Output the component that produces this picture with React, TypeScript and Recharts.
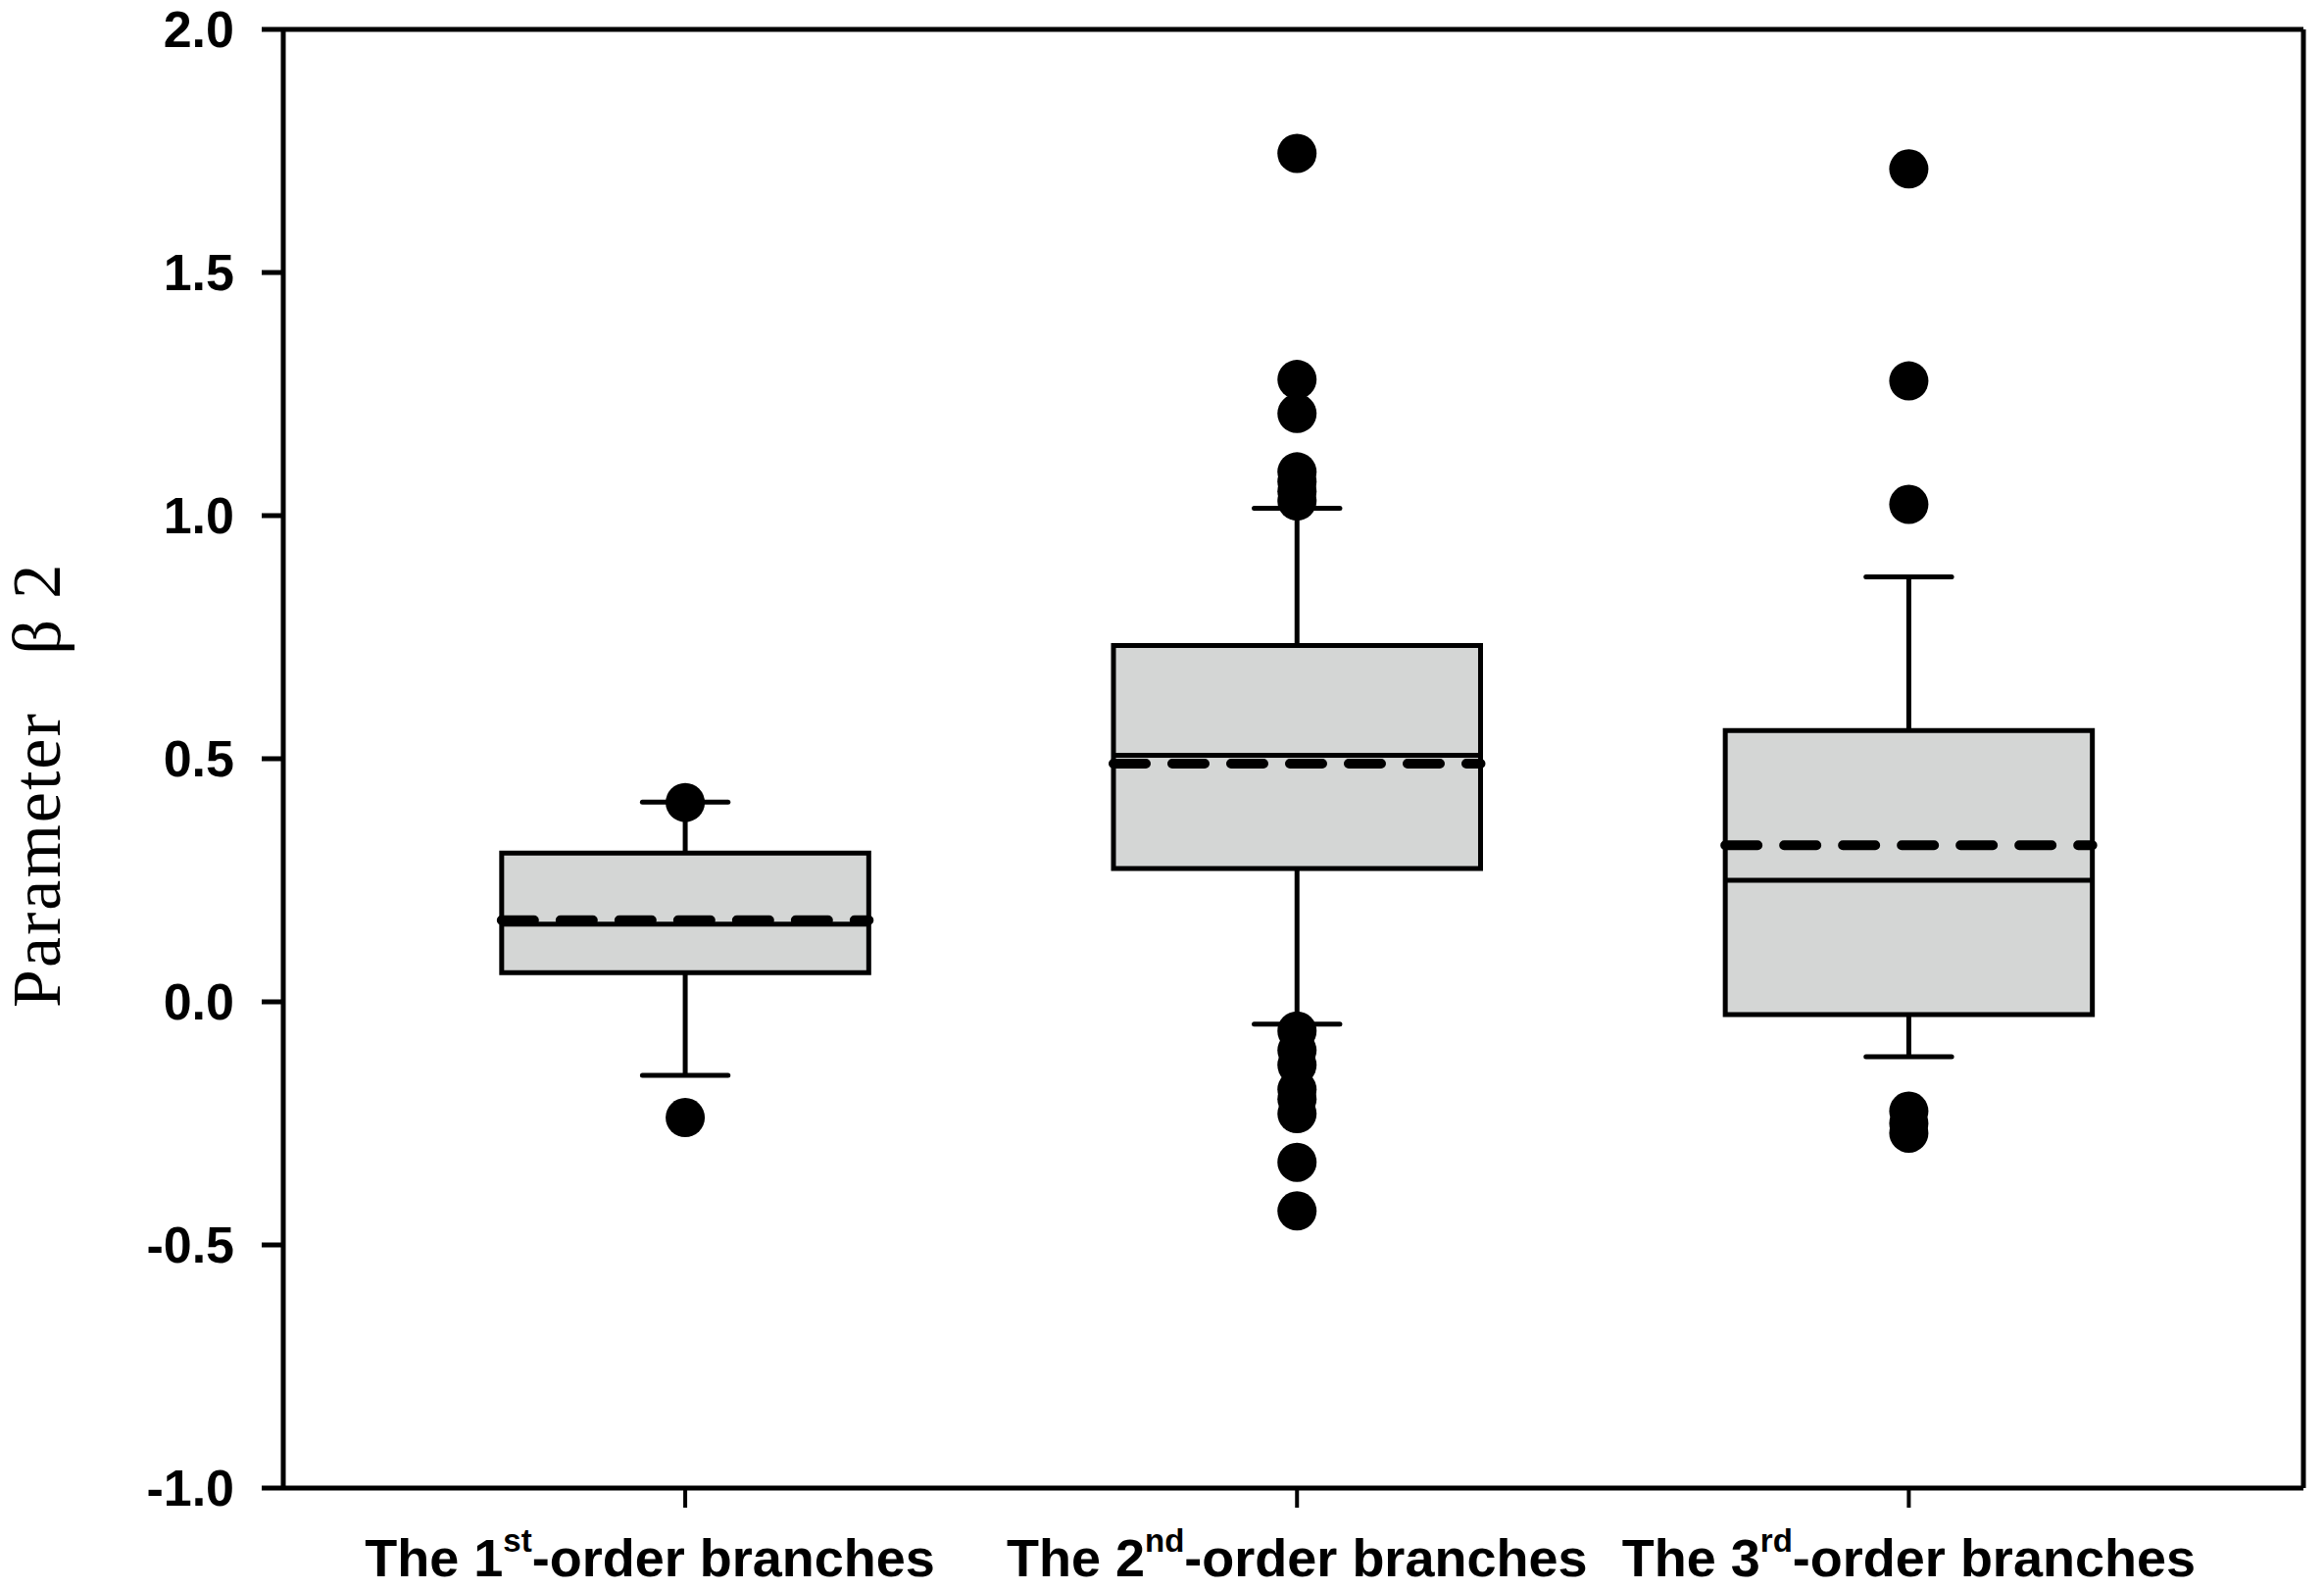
import React from 'react';
import {
  ComposedChart, XAxis, YAxis, Scatter, ReferenceArea, ReferenceLine
} from 'recharts';

// categories on the x axis (1st, 2nd, 3rd order branches)
const ordinals = ['1', '2', '3'];
const suffixes = ['st', 'nd', 'rd'];
const positions = [1, 2, 3];

// box statistics
const q1 = [0.06, 0.274, -0.026];
const median = [0.16, 0.507, 0.25];
const q3 = [0.306, 0.733, 0.558];
const mean = [0.168, 0.49, 0.322];
const whiskerLow = [-0.151, -0.046, -0.113];
const whiskerHigh = [0.411, 1.015, 0.874];

// outliers per group
const outliers1 = [0.41, -0.238];
const outliers2 = [1.745, 1.28, 1.21, 1.09, 1.07, 1.05, 1.03, -0.06, -0.1, -0.13, -0.18, -0.2, -0.23, -0.33, -0.43];
const outliers3 = [1.713, 1.277, 1.023, -0.225, -0.25, -0.27];

const yTicks = [-1.0, -0.5, 0.0, 0.5, 1.0, 1.5, 2.0];

const outlierData = [outliers1, outliers2, outliers3].flatMap((vals, i) =>
  vals.map(v => ({ x: positions[i], y: v }))
);

const BOX_HALF = 0.3;
const CAP_HALF = 0.07;
const X_DOMAIN: [number, number] = [0.343, 3.645];
const labelShift = [-36, 0, 0];

const tickFont = '"Liberation Sans", Arial, sans-serif';

const XTick = ({ x, y, payload }: any) => {
  const i = positions.indexOf(payload.value);
  if (i < 0) return null;
  return (
    <text
      x={x + labelShift[i]}
      y={y + 68}
      textAnchor="middle"
      fontFamily={tickFont}
      fontWeight="bold"
      fontSize={54}
      fill="#000"
    >
      <tspan>{`The ${ordinals[i]}`}</tspan>
      <tspan dy={-25} fontSize={33}>{suffixes[i]}</tspan>
      <tspan dy={25}>-order branches</tspan>
    </text>
  );
};

const Dot = (props: any) => (
  <circle cx={props.cx} cy={props.cy} r={20} fill="#000" />
);

const YLabel = () => (
  <text
    transform="translate(61,1028) rotate(-90)"
    textAnchor="start"
    fontFamily='"Liberation Serif", "Times New Roman", serif'
    fontSize={70}
    letterSpacing={2}
    fill="#000"
  >
    {'Parameter\u00a0\u00a0\u00a0\u03b2\u00a02'}
  </text>
);

export default function App() {
  return (
    <div style={{ position: 'absolute', left: 0, top: 0, background: '#fff' }}>
      <ComposedChart
        width={2371}
        height={1622}
        margin={{ top: 29, right: 20, left: 0, bottom: 0 }}
      >
        <XAxis
          dataKey="x"
          type="number"
          domain={X_DOMAIN}
          ticks={positions}
          interval={0}
          height={104}
          tickSize={20}
          tick={<XTick />}
          tickLine={{ stroke: '#000', strokeWidth: 4 }}
          axisLine={{ stroke: '#000', strokeWidth: 5 }}
          allowDataOverflow
        />
        <XAxis
          xAxisId="top"
          orientation="top"
          type="number"
          domain={X_DOMAIN}
          tick={false}
          tickLine={false}
          height={1}
          axisLine={{ stroke: '#000', strokeWidth: 5 }}
        />
        <YAxis
          dataKey="y"
          type="number"
          domain={[-1, 2]}
          ticks={yTicks}
          interval={0}
          width={289}
          tickSize={22}
          tickMargin={28}
          tickFormatter={(v: number) => v.toFixed(1)}
          tick={{ fill: '#000', fontSize: 52, fontWeight: 'bold', fontFamily: tickFont }}
          tickLine={{ stroke: '#000', strokeWidth: 5 }}
          axisLine={{ stroke: '#000', strokeWidth: 5 }}
          label={{ content: () => <YLabel /> }}
          allowDataOverflow
        />
        <YAxis
          yAxisId="right"
          orientation="right"
          type="number"
          domain={[-1, 2]}
          tick={false}
          tickLine={false}
          width={1}
          axisLine={{ stroke: '#000', strokeWidth: 5 }}
        />

        {positions.map((p, i) => (
          <ReferenceLine
            key={`wl-${i}`}
            segment={[{ x: p, y: whiskerLow[i] }, { x: p, y: q1[i] }]}
            stroke="#000"
            strokeWidth={5}
          />
        ))}
        {positions.map((p, i) => (
          <ReferenceLine
            key={`wh-${i}`}
            segment={[{ x: p, y: q3[i] }, { x: p, y: whiskerHigh[i] }]}
            stroke="#000"
            strokeWidth={5}
          />
        ))}
        {positions.map((p, i) => (
          <ReferenceLine
            key={`cl-${i}`}
            segment={[{ x: p - CAP_HALF, y: whiskerLow[i] }, { x: p + CAP_HALF, y: whiskerLow[i] }]}
            stroke="#000"
            strokeWidth={5}
            strokeLinecap="round"
          />
        ))}
        {positions.map((p, i) => (
          <ReferenceLine
            key={`ch-${i}`}
            segment={[{ x: p - CAP_HALF, y: whiskerHigh[i] }, { x: p + CAP_HALF, y: whiskerHigh[i] }]}
            stroke="#000"
            strokeWidth={5}
            strokeLinecap="round"
          />
        ))}
        {positions.map((p, i) => (
          <ReferenceArea
            key={`box-${i}`}
            x1={p - BOX_HALF}
            x2={p + BOX_HALF}
            y1={q1[i]}
            y2={q3[i]}
            fill="#d4d6d5"
            fillOpacity={1}
            stroke="#000"
            strokeWidth={5}
          />
        ))}
        {positions.map((p, i) => (
          <ReferenceLine
            key={`med-${i}`}
            segment={[{ x: p - BOX_HALF, y: median[i] }, { x: p + BOX_HALF, y: median[i] }]}
            stroke="#000"
            strokeWidth={5}
          />
        ))}
        {positions.map((p, i) => (
          <ReferenceLine
            key={`mean-${i}`}
            segment={[{ x: p - BOX_HALF, y: mean[i] }, { x: p + BOX_HALF, y: mean[i] }]}
            stroke="#000"
            strokeWidth={10}
            strokeDasharray="33 27"
            strokeLinecap="round"
          />
        ))}

        <Scatter
          data={outlierData}
          dataKey="y"
          fill="#000"
          shape={<Dot />}
          isAnimationActive={false}
        />
      </ComposedChart>
    </div>
  );
}
